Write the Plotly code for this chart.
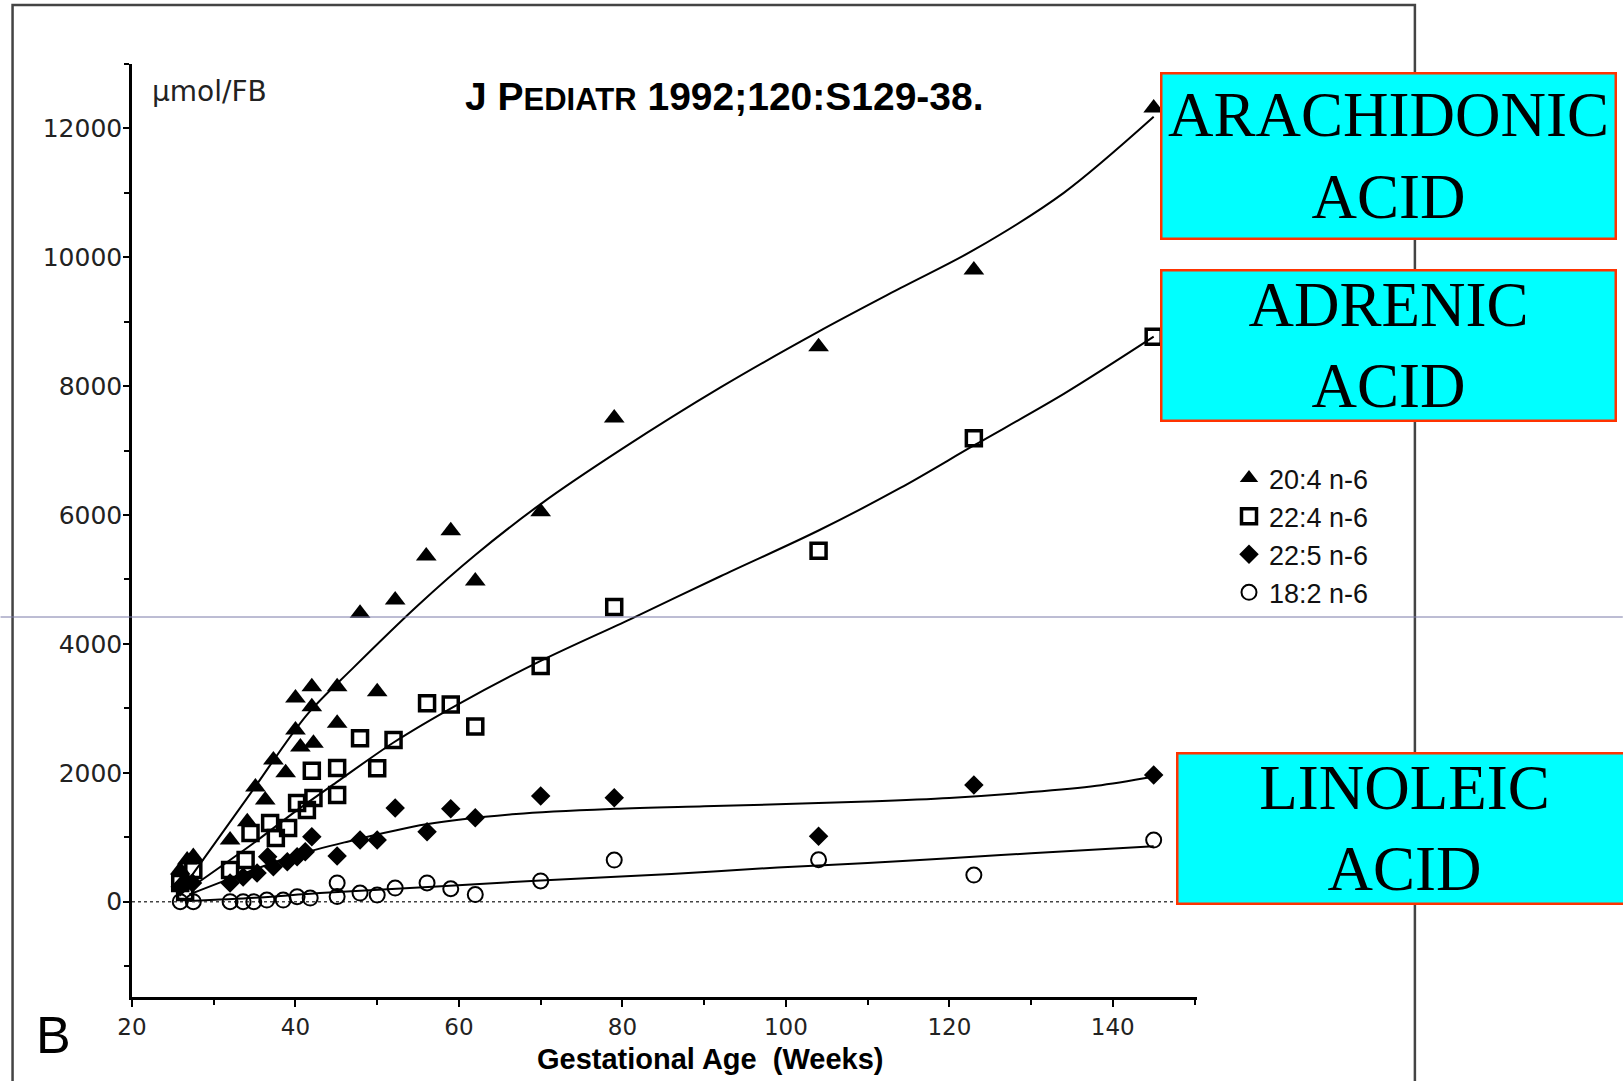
import plotly.graph_objects as go

# ---------------- data ----------------
aa_x = [25.9, 26.5, 26.75, 27.5, 32.0, 34.1, 35.1, 36.3, 37.3, 38.8, 40.0, 40.0, 40.6,
        42.0, 42.0, 42.2, 45.1, 45.1, 47.9, 50.0, 52.2, 56.0, 59.0, 62.0, 70.0, 79.0,
        104.0, 123.0, 145.0]
aa_y = [490, 350, 645, 700, 956, 1240, 1780, 1577, 2200, 2000, 3160, 2663, 2400,
        3336, 3025, 2460, 3336, 2770, 4474, 3258, 4681, 5364, 5755, 4976, 6051, 7506,
        8613, 9803, 12318]

adr_x = [25.9, 26.5, 27.5, 32.0, 33.9, 34.5, 36.9, 37.6, 39.1, 40.2, 41.4, 42.0, 42.2,
         45.1, 45.1, 47.9, 50.0, 52.0, 56.1, 59.0, 62.0, 70.0, 79.0, 104.0, 123.0, 145.0]
adr_y = [290, 150, 490, 490, 645, 1065, 1220, 987, 1142, 1530, 1422, 2030, 1608,
         2073, 1655, 2535, 2069, 2508, 3078, 3060, 2718, 3657, 4572, 5445, 7191, 8768]

dpa_x = [25.9, 27.4, 32.0, 33.6, 35.3, 36.6, 37.3, 39.0, 40.2, 41.2, 42.0, 45.1, 47.9,
         50.0, 52.2, 56.1, 59.0, 62.0, 70.0, 79.0, 104.0, 123.0, 145.0]
dpa_y = [231, 290, 290, 382, 443, 697, 542, 620, 697, 775, 1007, 710, 956,
         956, 1453, 1085, 1440, 1300, 1639, 1613, 1015, 1810, 1965]

la_x = [25.9, 27.5, 32.0, 33.6, 34.9, 36.5, 38.5, 40.2, 41.8, 45.1, 45.1, 47.9, 50.0,
        52.2, 56.1, 59.0, 62.0, 70.0, 79.0, 104.0, 123.0, 145.0]
la_y = [0, 0, 0, 0, 0, 25, 25, 76, 55, 290, 78, 133, 102,
        211, 290, 200, 110, 321, 645, 650, 413, 956]

# fitted curves
aa_fit_x = [27, 34.5, 41.4, 47, 55, 62, 70, 80, 92, 104, 114, 123, 134, 145]
aa_fit_y = [350, 1680, 2900, 3620, 4600, 5380, 6170, 7030, 7980, 8846, 9520, 10114, 11000, 12180]

adr_fit_x = [27, 34.9, 40, 45, 52, 60, 70, 81, 92, 104, 114, 123, 134, 145]
adr_fit_y = [200, 910, 1400, 1850, 2470, 3070, 3737, 4386, 5050, 5760, 6420, 7080, 7880, 8768]

dpa_fit_x = [27, 35, 40, 46, 56, 67, 79, 90, 100, 110, 120, 130, 138, 145]
dpa_fit_y = [110, 500, 720, 920, 1200, 1360, 1440, 1480, 1515, 1555, 1610, 1700, 1800, 1940]

la_fit_x = [27, 35, 43, 54, 62, 70, 86, 99, 110, 120, 130, 145]
la_fit_y = [10, 60, 133, 211, 270, 330, 430, 530, 600, 675, 750, 860]

zero_x = [20, 150]
zero_y = [0, 0]

series_names = ["20:4 n-6", "22:4 n-6", "22:5 n-6", "18:2 n-6"]
x_ticks = [20, 40, 60, 80, 100, 120, 140]
y_ticks = [0, 2000, 4000, 6000, 8000, 10000, 12000]

# ---------------- figure ----------------
W, H = 1623, 1081
ML, MR, MT, MB = 131.5, 426, 64, 84
PW, PH = W - ML - MR, H - MT - MB


def px(fx):
    return (fx - ML) / PW


def py(fy):
    return 1 - (fy - MT) / PH


fig = go.Figure()

line_style = dict(color="black", width=2, shape="spline", smoothing=0.9)
for fx_, fy_ in [(aa_fit_x, aa_fit_y), (adr_fit_x, adr_fit_y), (dpa_fit_x, dpa_fit_y), (la_fit_x, la_fit_y)]:
    fig.add_trace(go.Scatter(x=fx_, y=fy_, mode="lines", line=line_style,
                             showlegend=False, hoverinfo="skip"))

fig.add_trace(go.Scatter(x=zero_x, y=zero_y, mode="lines",
                         line=dict(color="#444", width=1.5, dash="dot"),
                         showlegend=False, hoverinfo="skip"))

fig.add_trace(go.Scatter(x=aa_x, y=aa_y, mode="markers", name=series_names[0],
                         marker=dict(symbol="triangle-up", size=18, color="black")))
fig.add_trace(go.Scatter(x=adr_x, y=adr_y, mode="markers", name=series_names[1],
                         marker=dict(symbol="square-open", size=15, color="black",
                                     line=dict(width=3.5, color="black"))))
fig.add_trace(go.Scatter(x=dpa_x, y=dpa_y, mode="markers", name=series_names[2],
                         marker=dict(symbol="diamond", size=15, color="black")))
fig.add_trace(go.Scatter(x=la_x, y=la_y, mode="markers", name=series_names[3],
                         marker=dict(symbol="circle-open", size=15, color="black",
                                     line=dict(width=2, color="black"))))

tick_font = dict(family="DejaVu Sans, Arial", size=25, color="#222")

fig.update_layout(
    width=W, height=H,
    margin=dict(l=ML, r=MR, t=MT, b=MB, pad=0),
    paper_bgcolor="white", plot_bgcolor="white",
    showlegend=True,
    legend=dict(xref="container", yref="container", x=1229 / W, y=1 - 454 / H,
                xanchor="left", yanchor="top", bgcolor="rgba(0,0,0,0)",
                font=dict(family="Liberation Sans, Arial", size=27, color="#111"),
                tracegroupgap=0),
    xaxis=dict(range=[20, 150.3], tickvals=x_ticks, ticktext=[str(v) for v in x_ticks],
               showgrid=False, zeroline=False, showline=True, linecolor="black",
               linewidth=3, ticks="outside", ticklen=7, tickwidth=1.5, tickcolor="black",
               minor=dict(tickvals=[30, 50, 70, 90, 110, 130, 150], ticks="outside",
                          ticklen=5, tickcolor="black"),
               tickfont=dict(family="DejaVu Sans, Arial", size=23, color="#222")),
    yaxis=dict(range=[-1480, 13000], tickvals=y_ticks, ticktext=[str(v) for v in y_ticks],
               showgrid=False, zeroline=False, showline=True, linecolor="black",
               linewidth=2.5, ticks="outside", ticklen=6, tickwidth=1.5, tickcolor="black",
               ticklabelstandoff=-4,
               minor=dict(dtick=1000, ticks="outside", ticklen=5, tickcolor="black"),
               tickfont=tick_font),
)

# outer frame of the scanned figure and the horizontal guide artifact
fig.add_shape(type="rect", xref="paper", yref="paper",
              x0=px(12), x1=px(1415), y0=py(1110), y1=py(5),
              line=dict(color="#444", width=2.5), layer="below")
fig.add_shape(type="line", xref="paper", yref="paper",
              x0=px(0), x1=px(W), y0=py(617), y1=py(617),
              line=dict(color="#7B7BA8", width=1), layer="above")

annos = [
    dict(text="µmol/FB", x=px(150), y=py(91), xanchor="left", yanchor="middle",
         font=dict(family="DejaVu Sans, Arial", size=28, color="#222")),
    dict(text="<b>J P<span style='font-size:31px'>EDIATR</span> 1992;120:S129-38.</b>",
         x=px(724), y=py(96), xanchor="center", yanchor="middle",
         font=dict(family="Liberation Sans, Arial", size=39, color="black")),
    dict(text="<b>Gestational Age  (Weeks)</b>", x=px(710), y=py(1059),
         xanchor="center", yanchor="middle",
         font=dict(family="Liberation Sans, Arial", size=29, color="black")),
    dict(text="B", x=px(53), y=py(1035), xanchor="center", yanchor="middle",
         font=dict(family="Liberation Sans, Arial", size=52, color="black")),
]
box_font = dict(family="Liberation Serif, Times New Roman", size=63, color="black")
for txt, cx, cy, h in [("ARACHIDONIC<br>ACID", 1389, 155.5, 163),
                       ("ADRENIC<br>ACID", 1389, 345, 148),
                       ("LINOLEIC<br>ACID", 1405, 828, 148)]:
    annos.append(dict(text=txt, x=px(cx), y=py(cy), xanchor="center", yanchor="middle",
                      width=452, height=h, align="center", valign="middle",
                      bgcolor="#00FFFF", bordercolor="#FF3300", borderwidth=2.5,
                      borderpad=0, font=box_font))
for a in annos:
    a.update(xref="paper", yref="paper", showarrow=False)
fig.update_layout(annotations=annos)

fig.write_html("out.html")
